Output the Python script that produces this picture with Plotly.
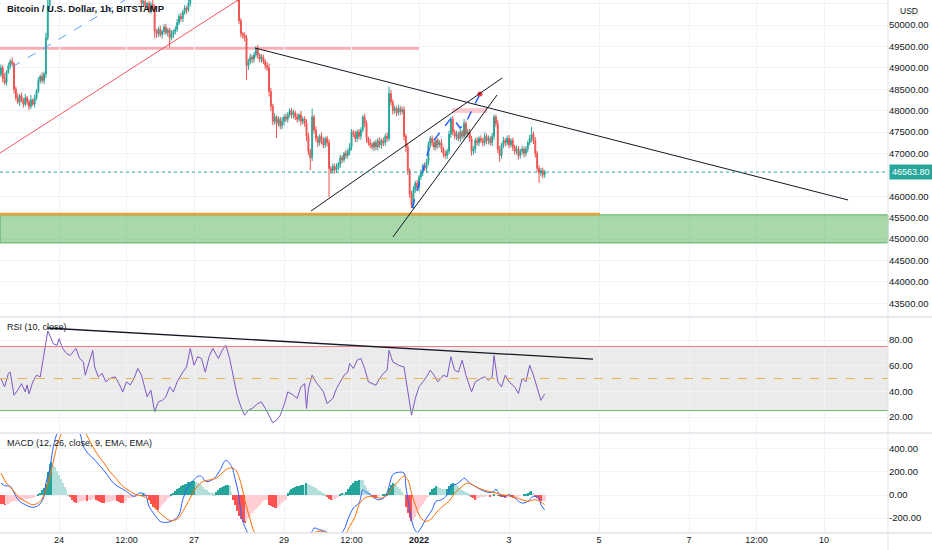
import plotly.graph_objects as go
from plotly.subplots import make_subplots
from datetime import datetime, timedelta

# ------------------------------------------------------------------ data
# hourly candles, first candle = 2021-12-22 17:00 (hour -31 relative to 2021-12-24 00:00)
start_hour = -31
first_open = 48850
close = [
    49000, 48750, 48650, 48900, 49050, 49150, 49100, 48500, 48300, 48200, 48350, 48250,
    48150, 48300, 48200, 48100, 48250, 48150, 48300, 48450, 48700, 48800, 48700, 48850,
    49700, 50450, 50900, 51050, 51200, 50950, 51100, 51300, 51150, 51000, 50900, 51050,
    51200, 51350, 51250, 51100, 51000, 50900, 51050, 51150, 51300, 51400, 51250, 51100,
    50950, 50850, 51000, 51100, 50950, 50800, 50700, 50850, 50950, 51100, 51200, 51050,
    50900, 51000, 51150, 51050, 50900, 50800, 50950, 51050, 50900, 50750, 50850, 50950,
    50800, 50700, 50650, 50500, 50550, 50450, 50500, 50350, 50480, 50400, 49850, 49800,
    49900, 49780, 49850, 49950, 49820, 49880, 49700, 49780, 49850, 49900, 50050, 50200,
    50150, 50300, 50400, 50350, 50500, 50700, 50900, 51050, 51200, 51400, 51600, 51550,
    51750, 51900, 52000, 51850, 51700, 51800, 51650, 51500, 51600, 51450, 51300, 51400,
    51200, 51050, 51150, 50950, 50800, 50750, 50650, 50100, 49800, 49750, 49700, 49050,
    49150, 49250, 49200, 49300, 49450, 49300, 49200, 49250, 49150, 49050, 49000, 48450,
    48100, 47750, 47850, 47700, 47800, 47650, 47750, 47850, 47800, 47900, 48000, 47900,
    47950, 47850, 47800, 47900, 47750, 47800, 47700, 47400, 47050, 46900, 47850, 47550,
    47350, 47250, 47400, 47300, 47200, 47350, 47250, 46650, 46600, 46700, 46620, 46680,
    46750, 46900, 46850, 47000, 46950, 47050, 47150, 47500, 47450, 47350, 47500, 47400,
    47550, 47850, 47700, 47350, 47250, 47200, 47150, 47250, 47150, 47300, 47200, 47300,
    47250, 47400, 47350, 48400, 48200, 48000, 48050, 47950, 48050, 47980, 48020, 47400,
    47150, 46600, 46050, 45800, 46150, 46300, 46200, 46450, 46550, 46700, 46650, 46800,
    47200, 47350, 47250, 47150, 47300, 47200, 47250, 47100, 47000, 46950, 47050, 47450,
    47800, 47500, 47400, 47450, 47350, 47500, 47400, 47700, 47450, 47500, 47350, 47050,
    47100, 47300, 47250, 47350, 47300, 47250, 47400, 47300, 47350, 47250, 47400, 47850,
    47700, 47100, 46950, 47200, 47300, 47250, 47350, 47200, 47300, 47150, 47050, 47100,
    46950, 47050, 47100, 47000, 47100, 47250, 47350, 47450, 47300, 47000, 46650, 46550,
    46600, 46500, 46563.8,
]
upper_wick = [
    80, 60, 120, 40, 70, 50, 90, 30, 60, 100, 40, 70,
    50, 90, 40, 60, 110, 30, 70, 50, 80, 40, 90, 60,
    120, 150, 100, 80, 60, 90, 50, 70, 110, 40, 60, 80,
    50, 70, 100, 40, 60, 90, 30, 80, 50, 120, 60, 40,
    70, 40, 90, 60, 50, 100, 30, 70, 80, 40, 60, 90,
    60, 80, 40, 100, 50, 70, 30, 90, 60, 40, 80, 50,
    70, 40, 60, 90, 50, 80, 40, 70, 60, 100, 80, 50,
    60, 90, 40, 70, 80, 50, 60, 100, 40, 70, 90, 60,
    80, 50, 70, 40, 90, 60, 100, 50, 70, 80, 60, 90,
    50, 70, 90, 60, 40, 80, 60, 100, 50, 70, 40, 60,
    90, 60, 40, 70, 50, 80, 60, 120, 60, 40, 80, 70,
    60, 80, 50, 70, 50, 90, 40, 70, 60, 50, 80, 100,
    80, 60, 90, 40, 70, 50, 100, 60, 80, 70, 50, 60,
    70, 50, 80, 40, 90, 60, 70, 100, 80, 60, 200, 60,
    80, 60, 50, 90, 70, 40, 60, 80, 50, 70, 60, 90,
    50, 70, 60, 40, 80, 60, 90, 70, 50, 80, 60, 70,
    60, 50, 80, 70, 40, 90, 60, 50, 70, 60, 80, 50,
    70, 60, 90, 160, 80, 60, 70, 50, 90, 60, 70, 80,
    60, 80, 50, 70, 90, 60, 80, 50, 70, 60, 90, 70,
    80, 60, 70, 90, 50, 70, 60, 80, 50, 70, 60, 80,
    50, 70, 60, 80, 60, 70, 50, 100, 60, 80, 70, 60,
    70, 60, 80, 50, 70, 60, 90, 60, 70, 50, 80, 50,
    60, 80, 70, 50, 90, 60, 70, 80, 60, 70, 50, 80,
    70, 60, 80, 60, 70, 50, 80, 170, 60, 80, 60, 70,
    60, 70, 50,
]
lower_wick = [
    60, 90, 50, 70, 40, 80, 60, 100, 70, 50, 90, 60,
    80, 50, 70, 90, 60, 40, 80, 60, 50, 70, 60, 80,
    90, 60, 80, 70, 100, 60, 80, 50, 90, 70, 60, 100,
    70, 60, 80, 50, 90, 60, 100, 70, 60, 80, 50, 90,
    60, 90, 50, 80, 70, 60, 90, 50, 70, 80, 60, 70,
    80, 60, 90, 50, 70, 100, 60, 80, 50, 90, 60, 70,
    60, 80, 50, 90, 70, 60, 80, 70, 90, 60, 150, 100,
    80, 60, 100, 70, 50, 90, 220, 60, 80, 70, 60, 50,
    70, 80, 60, 90, 50, 70, 60, 80, 70, 90, 60, 70,
    80, 60, 70, 90, 60, 80, 70, 60, 90, 70, 80, 60,
    70, 90, 60, 80, 70, 60, 100, 80, 90, 70, 80, 335,
    100, 70, 90, 80, 60, 90, 70, 80, 60, 90, 80, 120,
    110, 90, 80, 340, 70, 90, 80, 100, 70, 80, 60, 80,
    90, 70, 80, 60, 100, 70, 80, 120, 90, 290, 80, 90,
    80, 100, 70, 90, 80, 70, 90, 670, 80, 70, 90, 80,
    70, 90, 80, 60, 80, 70, 90, 80, 70, 90, 80, 70,
    80, 60, 90, 100, 70, 80, 60, 90, 70, 80, 70, 90,
    80, 70, 90, 60, 80, 90, 70, 80, 60, 90, 70, 100,
    120, 100, 90, 80, 90, 70, 80, 90, 70, 80, 60, 90,
    80, 70, 90, 80, 70, 90, 60, 80, 90, 70, 80, 70,
    90, 80, 70, 90, 60, 80, 70, 90, 80, 70, 80, 100,
    80, 90, 70, 80, 60, 90, 70, 80, 90, 70, 80, 90,
    80, 90, 150, 70, 80, 90, 70, 80, 60, 90, 80, 70,
    90, 70, 80, 90, 70, 80, 60, 90, 80, 100, 80, 240,
    90, 80, 70,
]
last_price = 46563.8

# RSI(10) read at sample hours
rsi_hours = [-31, -29, -27, -26, -24, -22, -20, -18, -17, -16, -14, -12, -10, -8, -6, -5, -3, -1, 0, 2,
             4, 6, 9, 11, 13, 14, 16, 18, 19, 21, 23, 25, 27, 30, 32, 34, 36, 38, 40, 42,
             44, 47, 49, 51, 53, 55, 57, 59, 61, 63, 66, 68, 70, 72, 74, 76, 78, 80, 82, 85,
             87, 89, 91, 93, 95, 97, 99, 101, 103, 106, 108, 110, 112, 114, 116, 118, 120, 122, 125, 127,
             129, 131, 132, 133, 135, 137, 139, 141, 143, 146, 148, 150, 152, 154, 155, 157, 159, 161, 163, 165,
             167, 169, 171, 173, 175, 176, 178, 181, 184, 186, 188, 190, 192, 194, 196, 198, 200, 202, 205, 207,
             209, 211, 213, 215, 217, 220, 222, 225, 227, 229, 231, 232, 234, 236, 238, 240, 243, 245, 247, 249,
             251, 253, 255, 257, 259]
rsi_values = [50, 43.5, 54, 55, 37, 41, 46, 39.6, 45, 38, 47.4, 52.6, 51.3, 68, 87, 84, 77, 76, 81, 73.5,
              69.5, 68, 73.5, 65.6, 63, 52.6, 63, 72, 59, 51.3, 54, 47.4, 50, 51.3, 46, 39.6, 47.4, 45, 50, 57.8,
              52.6, 35.7, 41, 24, 31.8, 33, 35.7, 43.5, 39.6, 47.4, 55, 59, 73.5, 60.4, 67, 65.6, 55, 67, 73.5, 65.6,
              72, 76, 65.6, 50, 37, 27.9, 21.4, 25.3, 26.6, 30.5, 31.8, 26.6, 21.4, 15.6, 17.5, 21.4, 29.2, 39.6, 37, 34.4,
              43.5, 46, 26.6, 42.2, 52.6, 47.4, 43.5, 39.6, 30.5, 34.4, 42.2, 47.4, 52.6, 55, 61.7, 57.8, 64.3, 65.6, 57.8, 47.4,
              46, 44.8, 50, 54, 56.5, 72, 63, 60.4, 59, 39.6, 21.4, 34.4, 43.5, 47.4, 51.3, 56.5, 52.6, 47.4, 52.6, 51.3,
              67, 56.5, 55, 64.3, 52.6, 39.6, 47.4, 50, 51.3, 48.7, 51.3, 68, 47.4, 43.5, 52.6, 47.4, 43.5, 38.3, 50, 47.4,
              60.4, 52.6, 42.2, 33, 38]

# MACD line read at sample hours
macd_hours = [-31, -29, -26, -23, -21, -18, -15, -13, -10, -8, -7, -5, -3, -1, 2, 6, 11, 13, 16, 18,
              22, 25, 29, 32, 36, 40, 43, 46, 48, 51, 54, 57, 61, 64, 66, 69, 72, 74, 76, 78,
              80, 83, 86, 89, 92, 94, 96, 97, 99, 101, 103, 108, 114, 120, 126, 131, 135, 136, 139, 142,
              146, 149, 152, 154, 157, 160, 162, 163, 166, 168, 171, 174, 176, 178, 181, 184, 185, 187, 189, 191,
              193, 196, 199, 201, 204, 207, 209, 212, 215, 216, 219, 222, 225, 229, 232, 233, 235, 238, 240, 243,
              247, 250, 253, 256, 257, 259]
macd_values = [104, 81, 75, -12, -55, -84, -105, -105, -76, -12, 104, 220, 423, 539, 650, 640, 539, 423, 351, 322,
               249, 191, 104, 69, 32, -12, 17, 3, -99, -171, -229, -238, -220, -171, -41, 75, 133, 162, 162, 119,
               119, 148, 220, 301, 249, 133, -12, -157, -273, -340, -420, -520, -600, -560, -470, -380, -316, -287, -302, -316,
               -360, -350, -302, -215, -113, -70, 46, 32, 3, -26, -41, -12, 75, 177, 197, 191, 75, -128, -273, -325,
               -287, -200, -128, -55, -41, 3, 75, 95, 133, 148, 104, 75, 46, 23, 32, 52, 3, -12, 3, -26,
               -70, -55, -12, -26, -84, -130]

# signal line read at sample hours
signal_hours = [-31, -28, -24, -21, -17, -14, -10, -7, -4, -2, 0, 4, 9, 14, 17, 20, 24, 27, 31, 34,
                38, 41, 45, 49, 52, 56, 59, 63, 66, 70, 73, 77, 81, 84, 88, 91, 94, 97, 99, 102,
                104, 110, 117, 124, 130, 134, 138, 144, 148, 153, 155, 158, 160, 163, 166, 169, 172, 175, 177, 180,
                184, 186, 188, 191, 193, 196, 199, 201, 204, 208, 211, 215, 218, 222, 225, 229, 233, 236, 240, 243,
                247, 250, 254, 257, 259]
signal_values = [191, 104, 32, -26, -64, -84, -55, 46, 220, 365, 481, 600, 620, 539, 452, 365, 278, 206, 133, 75,
                 32, 3, -12, -55, -128, -186, -220, -209, -142, -26, 61, 119, 133, 148, 206, 235, 220, 104, -41, -215,
                 -316, -420, -500, -470, -420, -360, -316, -331, -345, -331, -273, -186, -84, -26, -12, -20, -26, 3, 46, 104,
                 162, 133, 17, -128, -200, -229, -200, -157, -105, -55, 17, 75, 104, 75, 52, 32, 17, 3, -6, -20,
                 -41, -55, -41, -61, -85]

# MACD histogram, one bar per candle
macd_hist = [
    -75, -80, -84, -82, -78, -72, -65,
    -55, -50, -48, -45, -42, -40, -38, -35, -32, -30, -25,
    -15, -8,
    5, 20, 40, 65, 100,
    200, 270, 290,
    264, 240, 210, 175, 140, 105, 70, 40, 10,
    -20, -45, -60, -70, -68, -62, -55, -50, -45, -48, -42, -40, -35,
    -30, -40, -55, -62, -68, -70, -65, -60, -58, -55, -50,
    -45, -55, -62, -68, -70, -65, -50,
    -30, -26, -22, -18, -12, -6,
    0, -3, 2, -2, -5,
    -40, -75, -100, -113, -125,
    -128, -110, -90, -70, -50, -30, -12,
    5, 20, 35,
    50, 65, 75, 85, 95, 100, 110, 115, 119,
    119, 112, 105, 100,
    85, 70, 55, 40, 30, 20, 15, 10,
    30, 45, 60, 70, 80, 88, 90, 80,
    30,
    -40, -90, -140, -180, -210, -235, -244, -230,
    -200, -180, -160, -140, -120, -100, -85, -70, -55, -45, -40,
    -84, -95, -105, -110, -113, -100, -90,
    -70, -55, -40,
    15, 35, 50, 62, 70, 75, 80, 85, 90, 88,
    104, 95, 90, 80, 70, 60,
    45, 35, 25, 15, 5,
    -20, -35, -41, -40, -35, -25, -10,
    10, 20, 15,
    30, 50, 70, 90, 105, 118, 125, 133, 130, 128,
    90, 65, 40, 20,
    -10, -20, -22, -15,
    -5, 0, 5,
    12, 15,
    60, 90, 104, 100, 85, 70, 50, 30,
    0,
    -100, -160, -200, -229, -220,
    -190, -160, -130, -100, -75, -50, -30, -10,
    30, 50, 65, 75, 70,
    60, 55, 50, 48, 52, 80,
    95, 104, 100, 90, 75,
    60, 45, 35, 25, 15,
    5, -10,
    -30, -41, -38,
    -25, -18, -12, -10, -8, -5,
    -15, -5, 5, 0, -3, 2,
    -15, -20, -25, -22, -18, -20, -25, -22, -15, -10,
    -5, 0, 5, 10, 15,
    25, 32, 20,
    -10, -30,
    -45, -55, -55, -50,
]

# time axis labels (hours after 2021-12-24 00:00)
tick_hours = [0, 36, 72, 120, 156, 192, 240, 288, 336, 372, 408]
tick_labels = ["24", "12:00", "27", "29", "12:00", "<b>2022</b>", "3", "5", "7", "12:00", "10"]
price_ticks = [43500, 44000, 44500, 45000, 45500, 46000, 47000, 47500,
               48000, 48500, 49000, 49500, 50000, 50500]
rsi_ticks = [20, 40, 60, 80]
macd_ticks = [-200, 0, 200, 400]

# ------------------------------------------------------------------ helpers
W, H = 932, 550
base = datetime(2021, 12, 24)


def t(h):
    return base + timedelta(hours=h)


n = len(close)
times = [t(start_hour + i) for i in range(n)]
opens = [first_open] + close[:-1]
highs = [max(o, c) + u for o, c, u in zip(opens, close, upper_wick)]
lows = [min(o, c) - l for o, c, l in zip(opens, close, lower_wick)]

hist_colors = []
prev = 0
for v in macd_hist:
    if v >= 0:
        hist_colors.append('#26A69A' if v >= prev else '#B2DFDB')
    else:
        hist_colors.append('#FFCDD2' if v >= prev else '#FF5252')
    prev = v


def py(px):  # paper y from pixel row
    return 1 - px / H


X0, X1 = t(-31.47), t(442.1)
XD = [0, 888 / W]
FONT = "Liberation Sans"
TXT = "#131722"
GRID = "#F0F3FA"

fig = make_subplots(rows=3, cols=1, shared_xaxes=True, vertical_spacing=0)

# ---- price pane
fig.add_trace(go.Candlestick(
    x=times, open=opens, high=highs, low=lows, close=close,
    increasing=dict(line=dict(color='#26A69A', width=1), fillcolor='#26A69A'),
    decreasing=dict(line=dict(color='#EF5350', width=1), fillcolor='#EF5350'),
    whiskerwidth=0, showlegend=False, hoverinfo='skip'), row=1, col=1)

# drawings on price pane
shapes = []
shapes.append(dict(type='rect', xref='x', yref='y', x0=X0, x1=t(192.5), y0=49420, y1=49510,
                   fillcolor='rgba(242,54,69,0.40)', line=dict(width=0), layer='below'))
shapes.append(dict(type='rect', xref='x domain', yref='y', x0=0, x1=1, y0=44910, y1=45565,
                   fillcolor='rgba(76,175,80,0.48)', line=dict(color='rgba(67,160,71,0.8)', width=1), layer='above'))
shapes.append(dict(type='line', xref='x', yref='y', x0=X0, x1=t(288.5), y0=45585, y1=45585,
                   line=dict(color='#EBA13A', width=2.5)))
shapes.append(dict(type='rect', xref='x', yref='y', x0=t(209.6), x1=t(228.3), y0=47944, y1=48061,
                   fillcolor='rgba(242,54,69,0.25)', line=dict(width=0)))
shapes.append(dict(type='line', xref='x', yref='y', x0=X0, y0=47010, x1=t(97), y1=50626,
                   line=dict(color='rgba(242,54,69,0.85)', width=1)))
shapes.append(dict(type='line', xref='x', yref='y', x0=t(-25), y0=49019, x1=t(35.2), y1=50584,
                   line=dict(color='#5B9CF6', width=1, dash='dash')))
shapes.append(dict(type='line', xref='x', yref='y', x0=t(104.5), y0=49463, x1=t(420.8), y1=45912,
                   line=dict(color='#131722', width=1)))
shapes.append(dict(type='line', xref='x', yref='y', x0=t(134.4), y0=45655, x1=t(236.3), y1=48762,
                   line=dict(color='#131722', width=1)))
shapes.append(dict(type='line', xref='x', yref='y', x0=t(178.1), y0=45048, x1=t(233.6), y1=48365,
                   line=dict(color='#131722', width=1)))
shapes.append(dict(type='line', xref='x domain', yref='y', x0=0, x1=1, y0=last_price, y1=last_price,
                   line=dict(color='#26A69A', width=1, dash='dot')))

proj_h = [188.3, 197.9, 209.6, 213.9, 217.1, 224.5]
proj_p = [45725, 47197, 47851, 47594, 47734, 48388]
fig.add_trace(go.Scatter(x=[t(h) for h in proj_h], y=proj_p, mode='lines',
                         line=dict(color='#2962FF', width=1.5, dash='dash'),
                         showlegend=False, hoverinfo='skip'), row=1, col=1)
fig.add_trace(go.Scatter(x=[t(proj_h[-1])], y=[proj_p[-1]], mode='markers',
                         marker=dict(color='#F23645', size=5),
                         showlegend=False, hoverinfo='skip'), row=1, col=1)

# ---- RSI pane
shapes.append(dict(type='rect', xref='x2 domain', yref='y2', x0=0, x1=1, y0=25, y1=75,
                   fillcolor='rgba(120,120,120,0.15)', line=dict(width=0), layer='below'))
shapes.append(dict(type='line', xref='x2 domain', yref='y2', x0=0, x1=1, y0=75, y1=75,
                   line=dict(color='#F07C82', width=1)))
shapes.append(dict(type='line', xref='x2 domain', yref='y2', x0=0, x1=1, y0=25, y1=25,
                   line=dict(color='#66BB6A', width=1)))
shapes.append(dict(type='line', xref='x2 domain', yref='y2', x0=0, x1=1, y0=50, y1=50,
                   line=dict(color='#E6B450', width=1, dash='dash')))
shapes.append(dict(type='line', xref='x2', yref='y2', x0=t(-6.4), y0=89.4, x1=t(284.8), y1=65.2,
                   line=dict(color='#131722', width=1.3)))
fig.add_trace(go.Scatter(x=[t(h) for h in rsi_hours], y=rsi_values, mode='lines',
                         line=dict(color='#7E57C2', width=1),
                         showlegend=False, hoverinfo='skip'), row=2, col=1)

# ---- MACD pane
fig.add_trace(go.Bar(x=times, y=macd_hist, marker=dict(color=hist_colors, line=dict(width=0)),
                     width=2.2e6, showlegend=False, hoverinfo='skip'), row=3, col=1)
fig.add_trace(go.Scatter(x=[t(h) for h in macd_hours], y=macd_values, mode='lines',
                         line=dict(color='#2962FF', width=1), line_shape='spline',
                         showlegend=False, hoverinfo='skip'), row=3, col=1)
fig.add_trace(go.Scatter(x=[t(h) for h in signal_hours], y=signal_values, mode='lines',
                         line=dict(color='#FF6D00', width=1), line_shape='spline',
                         showlegend=False, hoverinfo='skip'), row=3, col=1)

# pane separators and price-axis border
for ypx in (317, 433, 533):
    shapes.append(dict(type='line', xref='paper', yref='paper', x0=0, x1=1, y0=py(ypx), y1=py(ypx),
                       line=dict(color='#E0E3EB', width=1.5)))
shapes.append(dict(type='line', xref='paper', yref='paper', x0=888 / W, x1=888 / W, y0=0, y1=1,
                   line=dict(color='#E0E3EB', width=1)))

fig.update_layout(shapes=shapes)

ytickfont = dict(family=FONT, size=9.5, color=TXT)
xtickfont = dict(family=FONT, size=9, color=TXT)
common_x = dict(range=[X0, X1], domain=XD, showgrid=True, gridcolor=GRID, zeroline=False,
                tickvals=[t(h) for h in tick_hours], ticktext=tick_labels,
                showline=False, ticks='', rangeslider=dict(visible=False))
fig.update_layout(
    width=W, height=H, margin=dict(l=0, r=0, t=0, b=0),
    paper_bgcolor='white', plot_bgcolor='white', showlegend=False,
    bargap=0,
    xaxis=dict(common_x, showticklabels=False),
    xaxis2=dict(common_x, showticklabels=False),
    xaxis3=dict(common_x, showticklabels=True, tickfont=xtickfont),
    yaxis=dict(domain=[py(316), 1], range=[43202, 50584], side='right',
               tickvals=price_ticks, ticktext=[f"{v:.2f}" for v in price_ticks],
               tickfont=ytickfont, showgrid=True, gridcolor=GRID, zeroline=False, ticks=''),
    yaxis2=dict(domain=[py(432), py(318)], range=[8.3, 97.2], side='right',
                tickvals=rsi_ticks, ticktext=[f"{v:.2f}" for v in rsi_ticks],
                tickfont=ytickfont, showgrid=True, gridcolor=GRID, zeroline=False, ticks=''),
    yaxis3=dict(domain=[py(533), py(434)], range=[-330, 530], side='right',
                tickvals=macd_ticks, ticktext=[f"{v:.2f}" for v in macd_ticks],
                tickfont=ytickfont, showgrid=True, gridcolor=GRID, zeroline=False, ticks=''),
)

annotations = [
    dict(text="Bitcoin / U.S. Dollar, 1h, BITSTAMP", xref='paper', yref='paper', x=5 / W, y=py(9),
         xanchor='left', yanchor='middle', showarrow=False,
         font=dict(family=FONT, size=9.5, color=TXT, weight='bold')),
    dict(text="RSI (10, close)", xref='paper', yref='paper', x=5 / W, y=py(327),
         xanchor='left', yanchor='middle', showarrow=False, font=dict(family=FONT, size=9, color=TXT)),
    dict(text="MACD (12, 26, close, 9, EMA, EMA)", xref='paper', yref='paper', x=5 / W, y=py(443),
         xanchor='left', yanchor='middle', showarrow=False, font=dict(family=FONT, size=9, color=TXT)),
    dict(text="USD", xref='paper', yref='paper', x=909 / W, y=py(11.5), xanchor='center', yanchor='middle',
         showarrow=False, bgcolor='white', borderpad=0, font=dict(family=FONT, size=8.5, color=TXT)),
    dict(text=f"{last_price:.2f}", xref='paper', yref='y', x=889 / W, y=last_price, xanchor='left',
         yanchor='middle', showarrow=False, bgcolor='#26A69A', borderpad=2,
         font=dict(family=FONT, size=9, color='white')),
]
fig.update_layout(annotations=annotations)

fig.write_html("out.html", config={'displayModeBar': False},
               post_script="document.body.style.margin='0';document.body.style.overflow='hidden';")
